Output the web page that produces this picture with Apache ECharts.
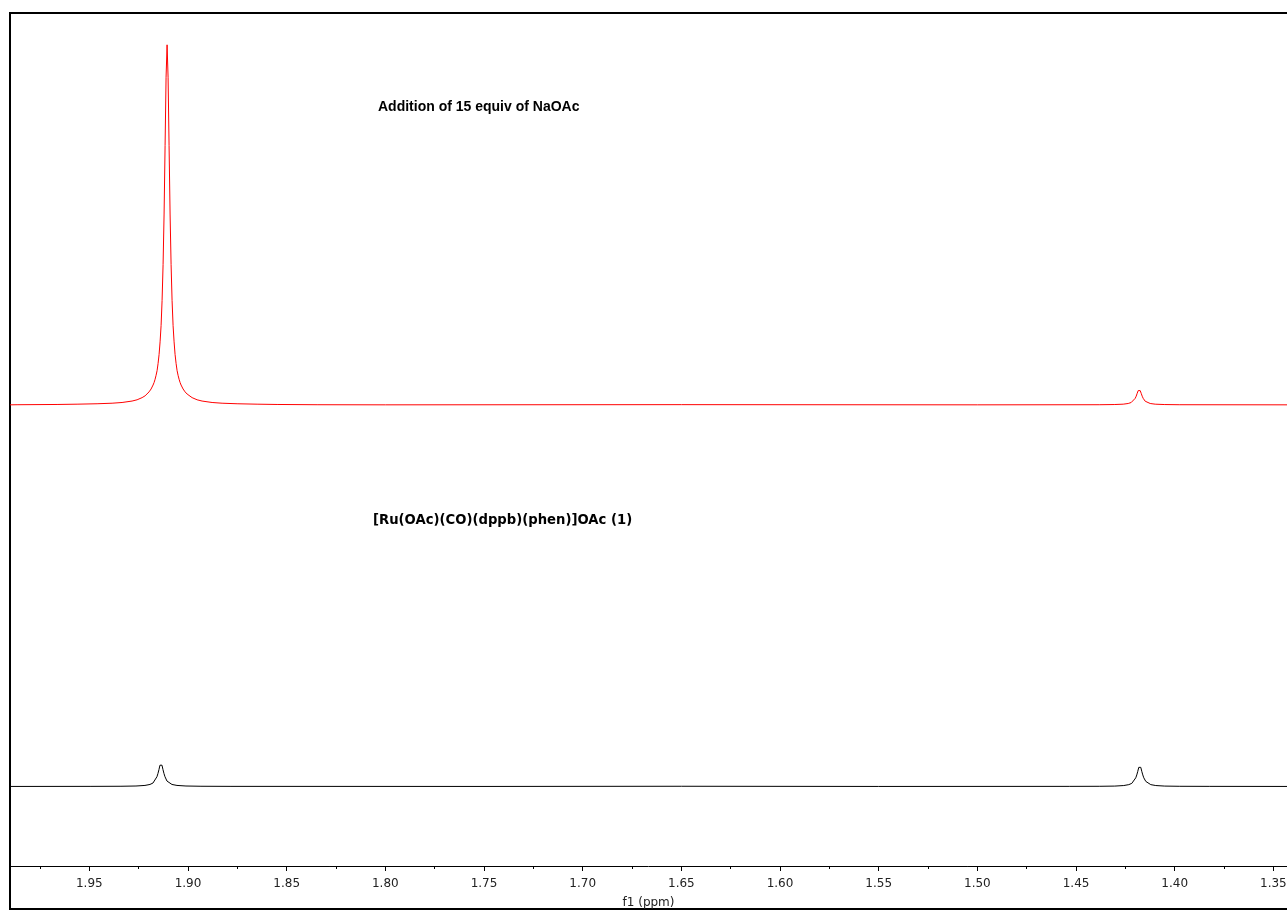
<!DOCTYPE html>
<html>
<head>
<meta charset="utf-8">
<title>1H NMR, acetate region</title>
<script src="https://cdn.jsdelivr.net/npm/echarts@6/dist/echarts.min.js"></script>
<style>
  html, body { margin: 0; padding: 0; background: #ffffff; }
  #chart { width: 1287px; height: 910px; }
</style>
</head>
<body>
<div id="chart"></div>
<script>
// Chemical shift window (ppm), high field on the right
const shiftMin = 1.3431;
const shiftMax = 1.9902;

// Labelled ticks every 0.05 ppm, unlabelled ticks half way between
const majorTicks = [1.35, 1.40, 1.45, 1.50, 1.55, 1.60, 1.65, 1.70, 1.75, 1.80, 1.85, 1.90, 1.95];
const minorTicks = [1.375, 1.425, 1.475, 1.525, 1.575, 1.625, 1.675, 1.725, 1.775, 1.825, 1.875, 1.925, 1.975];

// Upper trace: complex 1 after addition of 15 equiv of NaOAc  [ppm, intensity]
const spectrumWithNaOAc = [
  [1.9902, 0], [1.98662, 0.03], [1.96635, 0.1], [1.95621, 0.18], [1.94608, 0.3],
  [1.93847, 0.45], [1.93341, 0.65], [1.92834, 1.05], [1.92580, 1.4], [1.92327, 2.0],
  [1.92175, 2.5], [1.92074, 3.0], [1.91972, 3.6], [1.91871, 4.4], [1.91770, 5.5],
  [1.91719, 6.2], [1.91668, 7.1], [1.91618, 8.2], [1.91567, 9.5], [1.91516, 11.5],
  [1.91465, 14], [1.91415, 17.5], [1.91364, 22], [1.91313, 29], [1.91263, 39],
  [1.91212, 53], [1.91161, 72], [1.91111, 91],
  [1.9106, 100],
  [1.91009, 91], [1.90959, 72], [1.90908, 53], [1.90857, 39], [1.90807, 29],
  [1.90756, 22], [1.90705, 17.5], [1.90655, 14], [1.90604, 11.5], [1.90553, 9.5],
  [1.90503, 8.2], [1.90452, 7.1], [1.90401, 6.2], [1.90351, 5.5], [1.90249, 4.4],
  [1.90148, 3.6], [1.90046, 3.0], [1.89945, 2.5], [1.89793, 2.0], [1.89540, 1.4],
  [1.89286, 1.05], [1.88779, 0.65], [1.88273, 0.45], [1.87512, 0.3], [1.86499, 0.18],
  [1.85485, 0.1], [1.83458, 0.03], [1.80, 0.0], [1.65, 0.05], [1.50, 0.0],
  [1.43827, 0.03], [1.43067, 0.08], [1.42611, 0.18], [1.42357, 0.37], [1.42205, 0.65],
  [1.42104, 1.0], [1.42003, 1.8], [1.41952, 2.4], [1.41901, 3.2], [1.41851, 3.95],
  [1.4180, 4.3],
  [1.41749, 3.95], [1.41699, 3.2], [1.41648, 2.4], [1.41597, 1.8], [1.41496, 1.0],
  [1.41395, 0.65], [1.41243, 0.37], [1.40989, 0.18], [1.40533, 0.08], [1.39773, 0.03],
  [1.3431, 0]
];

// Lower trace: [Ru(OAc)(CO)(dppb)(phen)]OAc (1)  [ppm, intensity]
const spectrumComplex = [
  [1.9902, 0], [1.94918, 0.02], [1.93397, 0.05], [1.92637, 0.12], [1.92181, 0.28],
  [1.91927, 0.55], [1.91775, 0.95], [1.91674, 1.5], [1.91573, 2.7], [1.91522, 3.6],
  [1.91471, 4.7], [1.91421, 5.9],
  [1.9137, 6.4],
  [1.91319, 5.9], [1.91269, 4.7], [1.91218, 3.6], [1.91167, 2.7], [1.91066, 1.5],
  [1.90965, 0.95], [1.90813, 0.55], [1.90559, 0.28], [1.90103, 0.12], [1.89343, 0.05],
  [1.87822, 0.02], [1.75, 0.0], [1.65, 0.05], [1.55, 0.0],
  [1.45318, 0.02], [1.43797, 0.04], [1.43037, 0.1], [1.42581, 0.25], [1.42327, 0.5],
  [1.42175, 0.85], [1.42074, 1.4], [1.41973, 2.4], [1.41922, 3.2], [1.41871, 4.2],
  [1.41821, 5.3],
  [1.4177, 5.75],
  [1.41719, 5.3], [1.41669, 4.2], [1.41618, 3.2], [1.41567, 2.4], [1.41466, 1.4],
  [1.41365, 0.85], [1.41213, 0.5], [1.40959, 0.25], [1.40503, 0.1], [1.39743, 0.04],
  [1.38222, 0.02], [1.3431, 0]
];

// Vertical stacking of the two traces
const offsetWithNaOAc = 128.1;
const offsetComplex = 22.1;
const intensityMax = 236.94;

function stack(points, offset) {
  return points.map(function (p) { return [p[0], p[1] + offset]; });
}

const chart = echarts.init(document.getElementById('chart'), null, { renderer: 'canvas' });

const axisFont = 'DejaVu Sans';

chart.setOption({
  animation: false,
  backgroundColor: '#ffffff',
  grid: { left: 10, right: 0, top: 13, bottom: 44, containLabel: false, outerBoundsMode: 'none' },
  xAxis: [
    {
      type: 'value',
      inverse: true,
      min: shiftMin,
      max: shiftMax,
      position: 'bottom',
      name: 'f1 (ppm)',
      nameLocation: 'middle',
      nameGap: 31,
      nameTextStyle: { fontFamily: axisFont, fontSize: 12, color: '#222222' },
      axisLine: { show: true, lineStyle: { color: '#000000', width: 1 } },
      axisTick: {
        show: true, length: 5, inside: false,
        customValues: majorTicks,
        lineStyle: { color: '#000000', width: 1 }
      },
      axisLabel: {
        show: true,
        customValues: majorTicks,
        margin: 12,
        fontFamily: axisFont,
        fontSize: 12,
        color: '#222222',
        formatter: function (v) { return v.toFixed(2); }
      },
      splitLine: { show: false },
      minorTick: { show: false }
    },
    {
      type: 'value',
      inverse: true,
      min: shiftMin,
      max: shiftMax,
      position: 'bottom',
      axisLine: { show: false },
      axisTick: {
        show: true, length: 3, inside: false,
        customValues: minorTicks,
        lineStyle: { color: '#000000', width: 1 }
      },
      axisLabel: { show: false },
      splitLine: { show: false }
    }
  ],
  yAxis: {
    type: 'value',
    min: 0,
    max: intensityMax,
    show: false,
    splitLine: { show: false }
  },
  series: [
    {
      name: 'Addition of 15 equiv of NaOAc',
      type: 'line',
      xAxisIndex: 0,
      data: stack(spectrumWithNaOAc, offsetWithNaOAc),
      showSymbol: false,
      smooth: false,
      lineStyle: { color: '#ff0000', width: 1 },
      silent: true
    },
    {
      name: '[Ru(OAc)(CO)(dppb)(phen)]OAc (1)',
      type: 'line',
      xAxisIndex: 0,
      data: stack(spectrumComplex, offsetComplex),
      showSymbol: false,
      smooth: false,
      lineStyle: { color: '#000000', width: 1 },
      silent: true
    }
  ],
  graphic: [
    {
      type: 'rect',
      silent: true,
      shape: { x: 10, y: 13, width: 1300, height: 896 },
      style: { fill: 'none', stroke: '#000000', lineWidth: 2 }
    },
    {
      type: 'text',
      silent: true,
      x: 378, y: 107,
      style: {
        text: 'Addition of 15 equiv of NaOAc',
        font: 'bold 14px "Liberation Sans", Arial, sans-serif',
        fill: '#000000',
        verticalAlign: 'middle'
      }
    },
    {
      type: 'text',
      silent: true,
      x: 373, y: 521,
      style: {
        text: '[Ru(OAc)(CO)(dppb)(phen)]OAc (1)',
        font: 'bold 13.2px "DejaVu Sans", Verdana, sans-serif',
        fill: '#000000',
        verticalAlign: 'middle'
      }
    }
  ]
});
</script>
</body>
</html>
